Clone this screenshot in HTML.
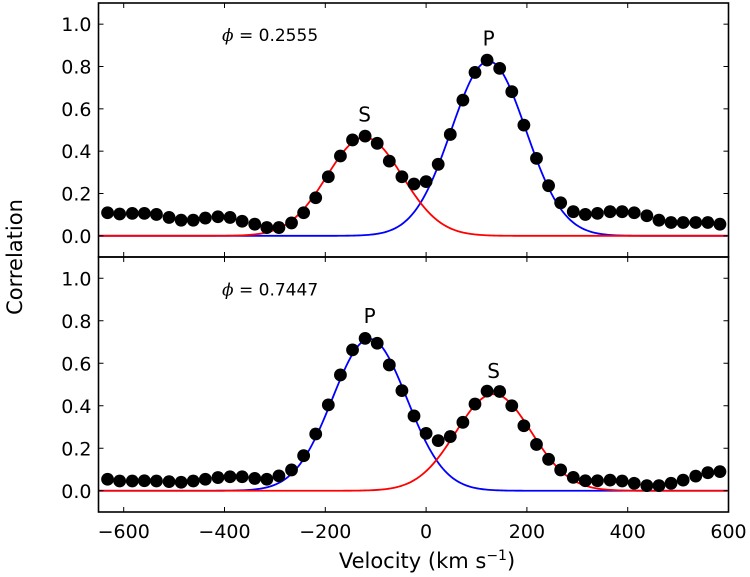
<!DOCTYPE html>
<html><head><meta charset="utf-8"><style>
html,body{margin:0;padding:0;background:#fff}
svg{display:block;font-family:"DejaVu Sans","Liberation Sans",sans-serif}
</style></head><body>
<svg id="chart" width="750" height="577" viewBox="0 0 750 577" xmlns="http://www.w3.org/2000/svg"></svg>
<script>
const velocities=[-632,-608,-583,-559,-535,-510,-486,-462,-438,-413,-389,-365,-340,-316,-292,-267,-243,-219,-194,-170,-146,-121,-97,-73,-48,-24,0,24,48,73,97,121,146,170,194,219,243,267,292,316,340,365,389,413,438,462,486,510,535,559,583];
const topCorr=[0.109,0.103,0.106,0.106,0.101,0.087,0.074,0.074,0.084,0.090,0.087,0.069,0.055,0.039,0.039,0.061,0.109,0.180,0.279,0.377,0.453,0.471,0.437,0.353,0.279,0.245,0.256,0.338,0.479,0.641,0.772,0.830,0.791,0.681,0.523,0.366,0.237,0.156,0.114,0.101,0.106,0.114,0.114,0.109,0.095,0.074,0.063,0.063,0.063,0.063,0.055];
const bottomCorr=[0.054,0.046,0.046,0.047,0.046,0.043,0.040,0.046,0.054,0.062,0.066,0.066,0.058,0.054,0.070,0.098,0.165,0.267,0.404,0.545,0.663,0.717,0.694,0.592,0.471,0.352,0.270,0.236,0.255,0.322,0.408,0.469,0.467,0.400,0.306,0.218,0.148,0.098,0.063,0.047,0.047,0.050,0.046,0.035,0.024,0.024,0.035,0.050,0.069,0.085,0.090];
// gaussian fits: [amplitude, center, sigma]
const topPrimaryFit=[0.825,124,74];
const topSecondaryFit=[0.465,-122,75];
const bottomPrimaryFit=[0.715,-112,74];
const bottomSecondaryFit=[0.455,134,75];
const xTicks=[-600,-400,-200,0,200,400,600];
const yTicks=[0,0.2,0.4,0.6,0.8,1.0];
const yTickLabels=["0.0","0.2","0.4","0.6","0.8","1.0"];

const NS="http://www.w3.org/2000/svg";
const svg=document.getElementById('chart');
const X0=98.5,X1=728.5,XMIN=-650,XMAX=600;
function xs(v){return X0+(v-XMIN)/(XMAX-XMIN)*(X1-X0);}
const panels=[
 {top:3,bot:257,corr:topCorr,P:topPrimaryFit,S:topSecondaryFit,phase:"0.2555",name:"top"},
 {top:257,bot:512,corr:bottomCorr,P:bottomPrimaryFit,S:bottomSecondaryFit,phase:"0.7447",name:"bottom"}
];
function mk(tag,attrs,parent){const e=document.createElementNS(NS,tag);for(const k in attrs)e.setAttribute(k,attrs[k]);(parent||svg).appendChild(e);return e;}
function gauss(f,v){return f[0]*Math.exp(-Math.pow(v-f[1],2)/(2*f[2]*f[2]));}

panels.forEach(p=>{
 const ys=c=>p.bot-(c+0.1)/1.2*(p.bot-p.top);
 const g=mk('g',{});
 
 
 [[p.P,'#0000ff','primary'],[p.S,'#ff0000','secondary']].forEach(([f,col,nm])=>{
  let d='';
  for(let v=XMIN;v<=XMAX;v+=4){d+=(d?'L':'M')+xs(v).toFixed(2)+','+ys(gauss(f,v)).toFixed(2);}
  const path=mk('path',{d:d,fill:'none',stroke:col,'stroke-width':1.8},g);
  
  
 });
 p.corr.forEach((c,i)=>{
  const dot=mk('circle',{cx:xs(velocities[i]).toFixed(2),cy:ys(c).toFixed(2),r:6.4,fill:'#000'},g);
  
  
 });
 xTicks.forEach(t=>{
  const x=xs(t);
  mk('line',{x1:x,x2:x,y1:p.bot,y2:p.bot-5,stroke:'#000','stroke-width':1},g);
  mk('line',{x1:x,x2:x,y1:p.top,y2:p.top+5,stroke:'#000','stroke-width':1},g);
 });
 yTicks.forEach((t,i)=>{
  const y=ys(t);
  mk('line',{x1:X0,x2:X0+5,y1:y,y2:y,stroke:'#000','stroke-width':1},g);
  mk('line',{x1:X1,x2:X1-5,y1:y,y2:y,stroke:'#000','stroke-width':1},g);
  const tl=mk('text',{x:X0-7,y:y+7,'text-anchor':'end','font-size':19},g);
  tl.textContent=yTickLabels[i];
  
  
 });
 const fr=mk('rect',{x:X0,y:p.top,width:X1-X0,height:p.bot-p.top,fill:'none',stroke:'#000','stroke-width':1.6},g);
 
 
 const ph=mk('text',{x:222,y:ys(0.92),'font-size':17},g);
 ph.innerHTML='<tspan font-style="italic" font-family="DejaVu Serif, serif">ϕ</tspan> = '+p.phase;
 
 
 [[p.P,'P'],[p.S,'S']].forEach(([f,l])=>{
  const t=mk('text',{x:xs(f[1]),y:ys(f[0]+0.075),'text-anchor':'middle','font-size':20},g);
  t.textContent=l;
  
  
 });
});
xTicks.forEach(t=>{
 const tl=mk('text',{x:xs(t),y:538,'text-anchor':'middle','font-size':19});
 tl.textContent=(t<0?'\u2212':'')+Math.abs(t);
 
 
});
const xt=mk('text',{x:427,y:568,'text-anchor':'middle','font-size':21});
xt.innerHTML='Velocity (km s<tspan dy="-8" font-size="14">\u22121</tspan><tspan dy="8">)</tspan>';


const yt=mk('text',{x:0,y:0,'text-anchor':'middle','font-size':21,transform:'translate(22,257) rotate(-90)'});
yt.textContent='Correlation';


</script>
</body></html>
